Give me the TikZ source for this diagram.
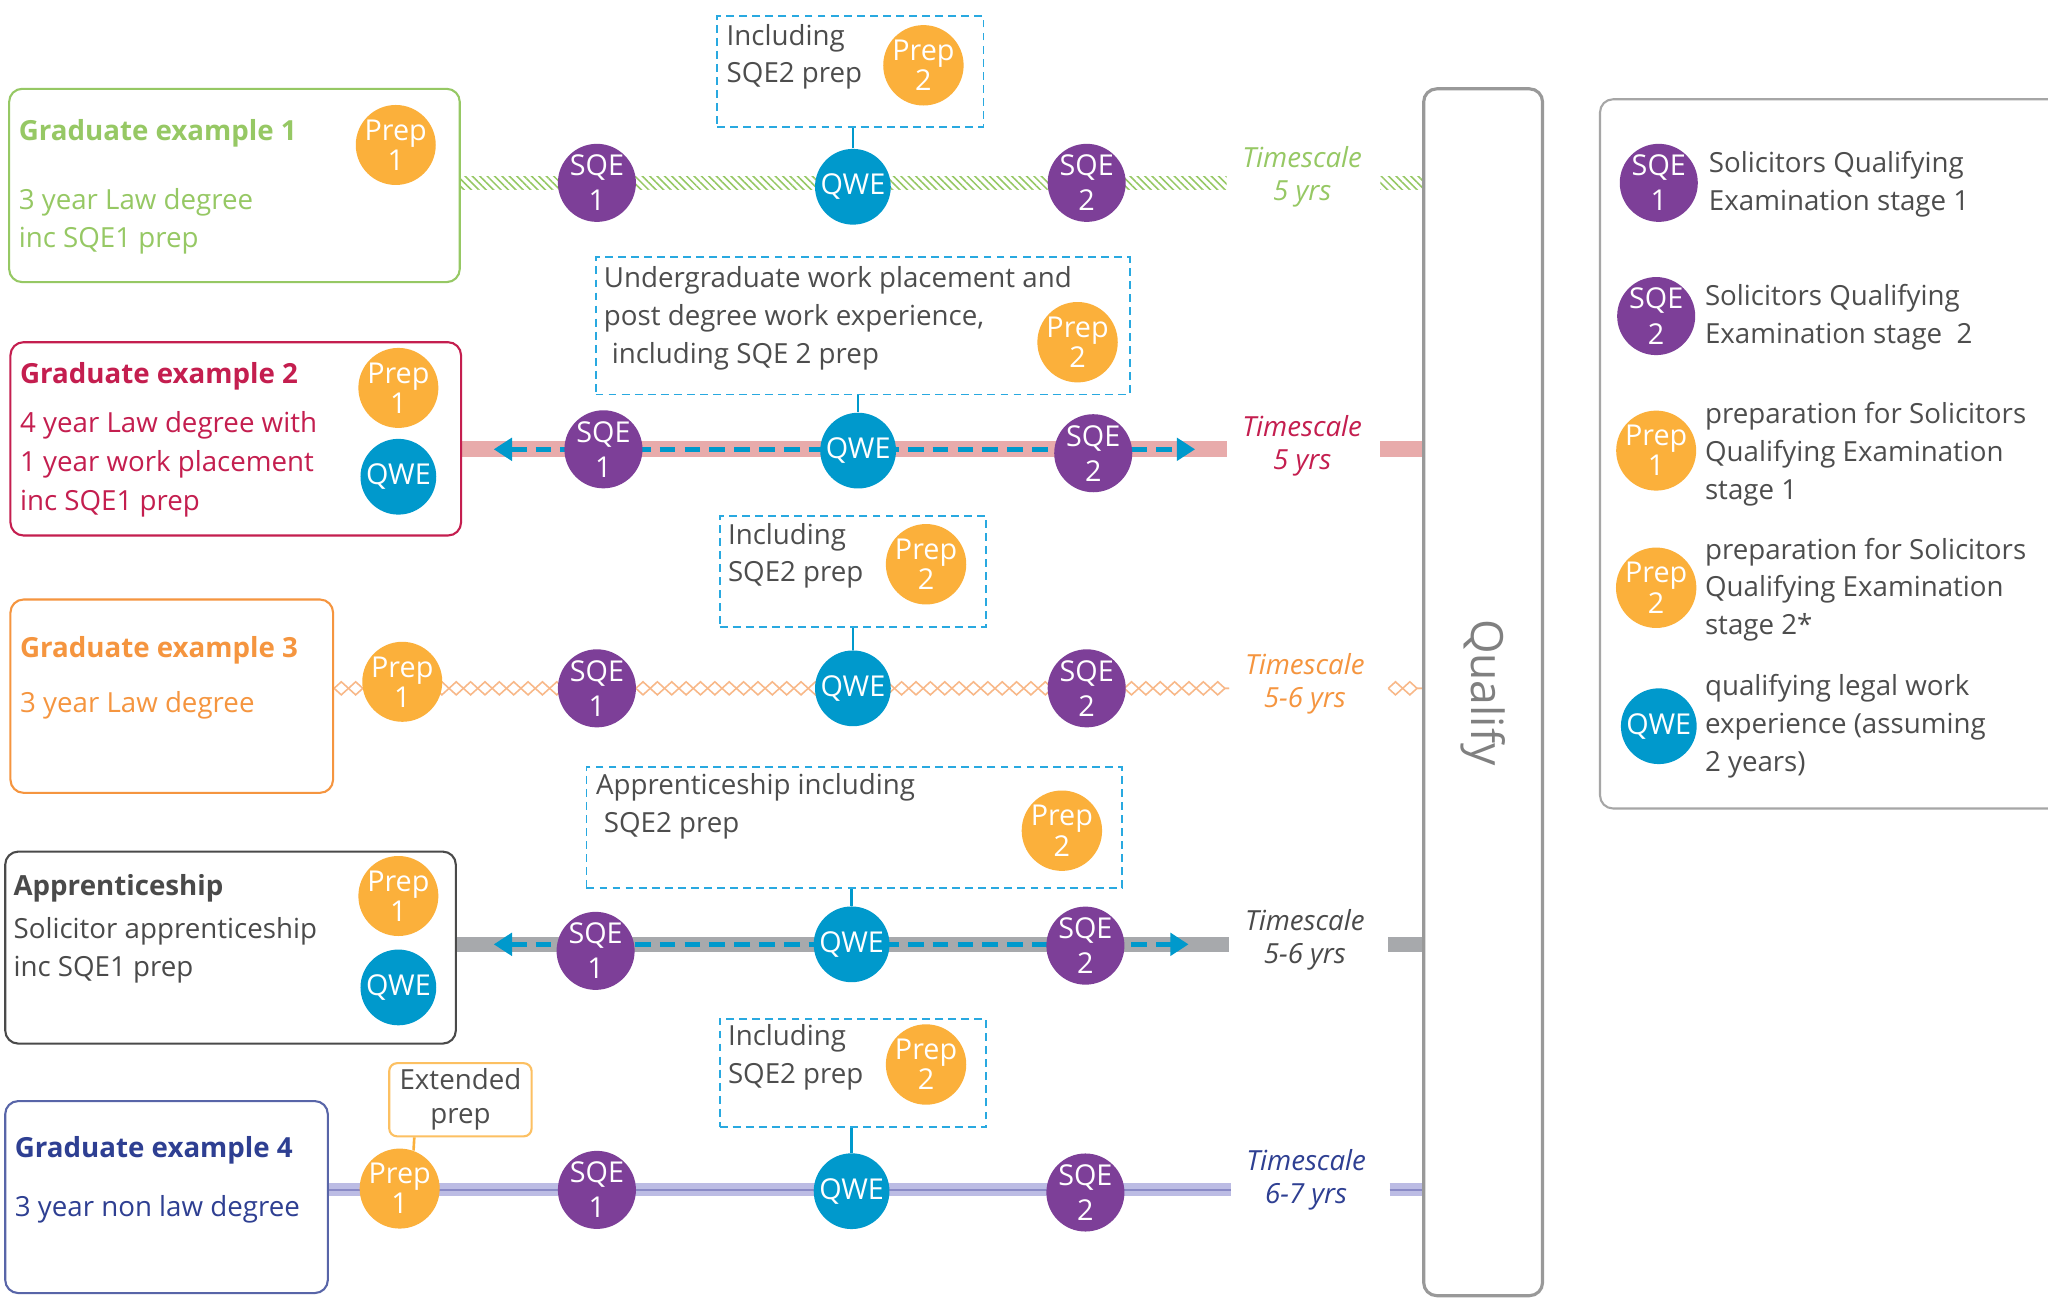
\documentclass[tikz,border=0pt]{standalone}
\usepackage{fontspec}
\setmainfont{Open Sans}
\usetikzlibrary{positioning,calc,fit,arrows.meta,patterns.meta,decorations.pathmorphing,backgrounds}

\definecolor{gradgreen}{HTML}{96C864}
\definecolor{gradred}{HTML}{C41E4F}
\definecolor{gradorange}{HTML}{F5953F}
\definecolor{gradgrey}{HTML}{4A4A4A}
\definecolor{gradnavy}{HTML}{2E3F92}
\definecolor{sqepurple}{HTML}{7D3F98}
\definecolor{prepyellow}{HTML}{FBB03B}
\definecolor{qweblue}{HTML}{0099CC}
\definecolor{notecyan}{HTML}{29A9E0}
\definecolor{notetext}{HTML}{4D4D4D}
\definecolor{pinkband}{HTML}{E8ABAB}
\definecolor{greyband}{HTML}{A7A9AC}
\definecolor{lilacband}{HTML}{BCBCE4}
\definecolor{lilacline}{HTML}{8A8AC6}
\definecolor{zigorange}{HTML}{F8B888}

\newcommand\bodysize{\fontsize{10.6}{14.5}\selectfont}

\begin{document}
\begin{tikzpicture}[x=0.5pt,y=-0.5pt]

      \tikzset{disc/.style={circle, inner sep=0pt, minimum size=29pt, text=white, align=center},
        sqe/.style={disc, fill=sqepurple, font=\fontsize{11}{13.5}\selectfont},
        prep/.style={disc, fill=prepyellow, font=\fontsize{11}{9.5}\selectfont},
        qwe/.style={disc, fill=qweblue, font=\fontsize{11}{12}\selectfont},
        pathbox/.style={draw, rounded corners=5pt, line width=0.8pt, inner sep=0pt},
        notebox/.style={draw=notecyan, densely dashed, line width=0.7pt, inner sep=0pt},
        title/.style={anchor=west, inner sep=0pt, font=\bfseries\bodysize},
        body/.style={anchor=west, inner sep=0pt, align=left, font=\bodysize},
        note/.style={body, text=notetext},
        timescale/.style={inner sep=0pt, minimum width=57.5pt, align=center, font=\itshape\fontsize{10.6}{12.5}\selectfont},
        stem/.style={qweblue, line width=1pt},
        zig/.style={zigorange, line width=0.6pt, decorate, decoration={zigzag, amplitude=#1, segment length=11pt}},
        dasharrow/.style={{Triangle[length=7pt,width=8.5pt]}-{Triangle[length=7pt,width=8.5pt]}, qweblue, line width=2pt, dash pattern=on 6pt off 3.5pt}}

      \useasboundingbox (0,0) rectangle (1568,995);

%% Qualify bar and key
      	\node[pathbox, draw=gray!80, line width=1.2pt, fit={(1090,68) (1181,992)}] (q) {};
      	\node[rotate=-90, text=gray, font=\fontsize{17}{17}\selectfont] (qt) at (q.center) {Qualify};
      	\node[pathbox, draw=gray!70, fit={(1225,76) (1600,619)}] (key) {};
      	\node[sqe] (ks1) at (1270,140) {SQE\\1};
      	\node[note] (kt1) at (1308,141) {Solicitors Qualifying\\Examination stage 1};
      	\node[sqe] (ks2) at (1268,242) {SQE\\2};
      	\node[note] (kt2) at (1305,243) {Solicitors Qualifying\\Examination stage~~2};
      	\node[prep] (kp1) at (1268,345) {Prep\\1};
      	\node[note] (kt3) at (1305,347.5) {preparation for Solicitors\\Qualifying Examination\\stage 1};
      	\node[prep] (kp2) at (1268,450) {Prep\\2};
      	\node[note] (kt4) at (1305,451.5) {preparation for Solicitors\\Qualifying Examination\\stage 2*};
      	\node[qwe] (kw) at (1270,556) {QWE};
      	\node[note] (kt5) at (1305,556) {qualifying legal work\\experience (assuming\\2 years)};

%% Graduate example 1
      	\node[pathbox, draw=gradgreen, fit={(7,68) (352,216)}] (g1) {};
      	\node[title, text=gradgreen] (g1t) at (14,102) {Graduate example 1};
      	\node[body, text=gradgreen] (g1b) at (14,169.5) {3 year Law degree\\inc SQE1 prep};
      	\node[prep] (g1p) at (303,111) {Prep\\1};
      	\node[sqe] (s11) at (457,140) {SQE\\1};
      	\node[qwe] (w1) at (653,143) {QWE};
      	\node[sqe] (s12) at (832,140) {SQE\\2};
      	\node[notebox, fit={(549,12) (753,97)}] (n1) {};
      	\node[note] (n1t) at (556,43.5) {Including\\SQE2 prep};
      	\node[prep] (n1p) at (707,50) {Prep\\2};
      	\node[timescale, text=gradgreen] (t1) at (997,135.5) {Timescale\\5 yrs};

%% Graduate example 2
      	\node[pathbox, draw=gradred, fit={(8,262) (353,410)}] (g2) {};
      	\node[title, text=gradred] (g2t) at (15,288) {Graduate example 2};
      	\node[body, text=gradred, font=\fontsize{10.6}{15}\selectfont] (g2b) at (15,355.5) {4 year Law degree with\\1 year work placement\\inc SQE1 prep};
      	\node[prep] (g2p) at (305,297) {Prep\\1};
      	\node[qwe] (g2w) at (305,365) {QWE};
      	\node[sqe] (s21) at (462,344) {SQE\\1};
      	\node[qwe] (w2) at (657,345) {QWE};
      	\node[sqe] (s22) at (837,347) {SQE\\2};
      	\node[notebox, fit={(456,197) (865,302)}] (n2) {};
      	\node[note] (n2t) at (462,243.5) {Undergraduate work placement and\\post degree work experience,\\\hspace*{3pt}including SQE 2 prep};
      	\node[prep] (n2p) at (825,262) {Prep\\2};
      	\node[timescale, text=gradred] (t2) at (997,341.5) {Timescale\\5 yrs};
      	\coordinate (l2) at (378,344);
      	\coordinate (r2) at (915,344);

%% Graduate example 3
      	\node[pathbox, draw=gradorange, fit={(8,459) (255,607)}] (g3) {};
      	\node[title, text=gradorange] (g3t) at (15,498) {Graduate example 3};
      	\node[body, text=gradorange] (g3b) at (15,540) {3 year Law degree};
      	\node[prep] (g3p) at (308,522) {Prep\\1};
      	\node[sqe] (s31) at (457,527) {SQE\\1};
      	\node[qwe] (w3) at (653,527) {QWE};
      	\node[sqe] (s32) at (832,527) {SQE\\2};
      	\node[notebox, fit={(551,395) (755,480)}] (n3) {};
      	\node[note] (n3t) at (557,425.5) {Including\\SQE2 prep};
      	\node[prep] (n3p) at (709,432) {Prep\\2};
      	\node[timescale, text=gradorange] (t3) at (999,523.5) {Timescale\\5-6 yrs};

%% Apprenticeship
      	\node[pathbox, draw=gradgrey, fit={(4,652) (349,799)}] (g4) {};
      	\node[title, text=gradgrey] (g4t) at (10,680) {Apprenticeship};
      	\node[body, text=gradgrey] (g4b) at (10,727.5) {Solicitor apprenticeship\\inc SQE1 prep};
      	\node[prep] (g4p) at (305,686) {Prep\\1};
      	\node[qwe] (g4w) at (305,756) {QWE};
      	\node[sqe] (s41) at (456,728) {SQE\\1};
      	\node[qwe] (w4) at (652,723) {QWE};
      	\node[sqe] (s42) at (831,724) {SQE\\2};
      	\node[notebox, fit={(449,587) (859,680)}] (n4) {};
      	\node[note] (n4t) at (456,617.5) {Apprenticeship including\\\hspace*{3pt}SQE2 prep};
      	\node[prep] (n4p) at (813,636) {Prep\\2};
      	\node[timescale, text=gradgrey] (t4) at (999,719.5) {Timescale\\5-6 yrs};
      	\coordinate (l4) at (378,723);
      	\coordinate (r4) at (910,723);

%% Graduate example 4
      	\node[pathbox, draw=gradnavy!80, fit={(4,843) (251,990)}] (g5) {};
      	\node[title, text=gradnavy] (g5t) at (11,881) {Graduate example 4};
      	\node[body, text=gradnavy] (g5b) at (11,926) {3 year non law degree};
      	\node[prep] (g5p) at (306,910) {Prep\\1};
      	\node[pathbox, draw=prepyellow!80, rounded corners=3pt, fit={(298,814) (407,870)}] (ext) {};
      	\node[note, anchor=center, align=center, font=\fontsize{10.6}{13}\selectfont] (extt) at (ext.center) {Extended\\prep};
      	\node[sqe] (s51) at (457,911) {SQE\\1};
      	\node[qwe] (w5) at (652,912) {QWE};
      	\node[sqe] (s52) at (831,913) {SQE\\2};
      	\node[notebox, fit={(551,780) (755,863)}] (n5) {};
      	\node[note] (n5t) at (557,809.5) {Including\\SQE2 prep};
      	\node[prep] (n5p) at (709,815) {Prep\\2};
      	\node[timescale, text=gradnavy] (t5) at (1000,903.5) {Timescale\\6-7 yrs};

%Stems
		\path [stem] (w1.north) edge (w1.north |- n1.south);
		\path [stem] (w2.north) edge (w2.north |- n2.south);
		\path [stem] (w3.north) edge (w3.north |- n3.south);
		\path [stem] (w4.north) edge (w4.north |- n4.south);
		\path [stem] (w5.north) edge (w5.north |- n5.south);
		\path [prepyellow, line width=1pt] (g5p.70) edge ($(ext.south west)+(20,0)$);

%Timelines
	\begin{scope}[on background layer]
		\fill [white] (0,0) rectangle (1568,995);
		\fill [pattern={Lines[angle=-45,distance=2pt,line width=0.6pt]}, pattern color=gradgreen] ($(g1.east |- s11)+(0,-5)$) rectangle ($(t1.west |- s11)+(0,5)$);
		\fill [pattern={Lines[angle=-45,distance=2pt,line width=0.6pt]}, pattern color=gradgreen] ($(t1.east |- s11)+(2,-5)$) rectangle ($(q.west |- s11)+(0,5)$);
		\path [pinkband, line width=6pt] (g2.east |- s21) edge (t2.west |- s21);
		\path [pinkband, line width=6pt] ($(t2.east |- s21)+(2,0)$) edge (q.west |- s21);
		\path [dasharrow] (l2) edge (r2);
		\draw [zig=2.5pt] (g3.east |- s31) -- (t3.west |- s31);
		\draw [zig=-2.5pt] (g3.east |- s31) -- (t3.west |- s31);
		\draw [zig=2.5pt] ($(t3.east |- s31)+(6,0)$) -- (q.west |- s31);
		\draw [zig=-2.5pt] ($(t3.east |- s31)+(6,0)$) -- (q.west |- s31);
		\path [greyband, line width=5.5pt] (g4.east |- w4) edge (t4.west |- w4);
		\path [greyband, line width=5.5pt] ($(t4.east |- w4)+(6,0)$) edge (q.west |- w4);
		\path [dasharrow] (l4) edge (r4);
		\path [lilacband, line width=5pt] (g5.east |- s51) edge (t5.west |- s51);
		\path [lilacband, line width=5pt] ($(t5.east |- s51)+(6,0)$) edge (q.west |- s51);
		\path [lilacline, line width=0.8pt] (g5.east |- s51) edge (t5.west |- s51);
		\path [lilacline, line width=0.8pt] ($(t5.east |- s51)+(6,0)$) edge (q.west |- s51);
	\end{scope}

	\end{tikzpicture}
\end{document}
